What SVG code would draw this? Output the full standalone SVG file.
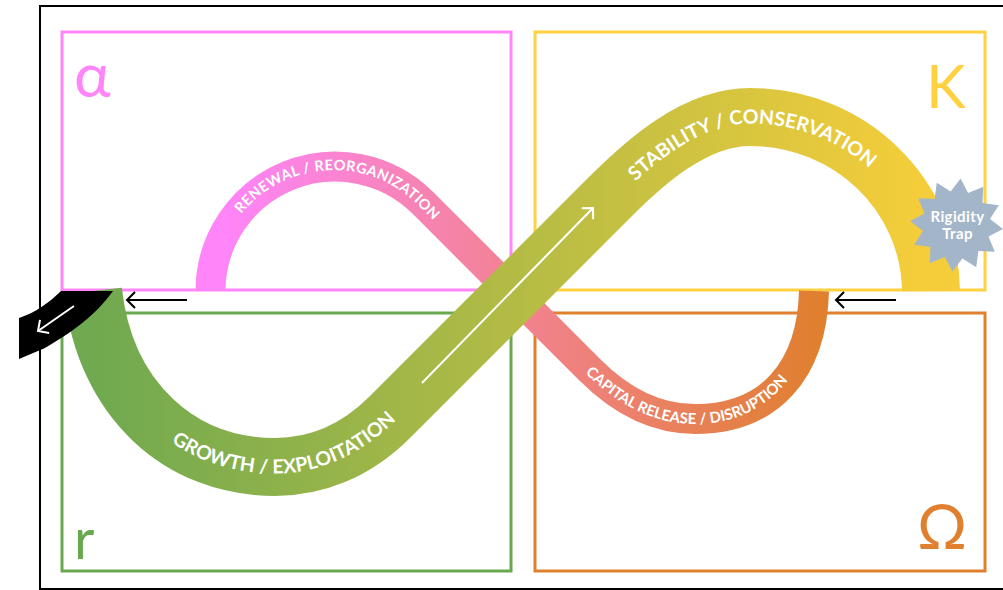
<svg xmlns="http://www.w3.org/2000/svg" width="1003" height="590" viewBox="0 0 1003 590">
<style>
.box{fill:none;stroke-width:3}
.bl{font-family:"Lato","Liberation Sans",sans-serif;font-weight:700;fill:#fff}
.g{font-family:"Lato","Liberation Sans",sans-serif;font-weight:400}
.ln{fill:none;stroke-width:2}
.band{fill:none}
</style>
<defs>
<linearGradient id="gp" gradientUnits="userSpaceOnUse" x1="225" y1="0" x2="820" y2="0"><stop offset="0" stop-color="#ff85f9"/><stop offset="0.5" stop-color="#f2828f"/><stop offset="1" stop-color="#e07f2e"/></linearGradient>
<linearGradient id="gg" gradientUnits="userSpaceOnUse" x1="90" y1="0" x2="920" y2="0"><stop offset="0" stop-color="#6fa950"/><stop offset="1" stop-color="#f5cd3a"/></linearGradient>
<marker id="ah" markerUnits="userSpaceOnUse" markerWidth="14" markerHeight="20" refX="11" refY="10" orient="auto"><path d="M3 2L11 10L3 18" fill="none" stroke="context-stroke" stroke-width="2"/></marker>
<path id="t1" d="M241 214A119.5 119.5 0 0 1 419.5 206.5L450 237"/>
<path id="t2" d="M585 373C617 404 653 424 695 424C768 424 815 368 819 291"/>
<path id="t3" d="M86 291C99 404 178 473.5 275 473.5C318 473.5 359 456 394.5 421.5L410 406"/>
<path id="t4" d="M614.6 201.6C650 166 698 123.5 750 123.5C847 123.5 925 198 925 291"/>
</defs>
<rect x="40" y="6" width="970" height="583" fill="#fff" stroke="#000" stroke-width="2"/>
<g id="quadrant-alpha"><rect class="box" x="62" y="32" width="449" height="258" stroke="#ff85f9"/><text class="g" font-size="62" x="74" y="97" fill="#ff85f9">α</text></g>
<g id="quadrant-k"><rect class="box" x="535" y="32" width="450" height="258" stroke="#ffd03f"/><text class="g" font-size="60" x="926" y="108" fill="#ffd03f">K</text></g>
<g id="quadrant-r"><rect class="box" x="62" y="313" width="449" height="258" stroke="#6aa84f"/><text class="g" font-size="56" x="74" y="559" fill="#6aa84f">r</text></g>
<g id="quadrant-omega"><rect class="box" x="535" y="313" width="450" height="258" stroke="#e0802f"/><text class="g" font-size="62" x="917" y="549" fill="#e0802f">Ω</text></g>
<g id="connectors">
<path id="band-pink" class="band" stroke="url(#gp)" stroke-width="30" d="M210.5 291A124.5 124.5 0 0 1 423 203L590 370C620 400 655 419 695 419C770 419 812 370 814 291"/>
<path id="band-green" class="band" stroke="url(#gg)" stroke-width="58" d="M93 291C105 400 180 467 275 467C315 467 355 452 390 417L610 197C645 162 695 117 750 117C850 117 930 195 931 291"/>
<path id="black-tip" fill="#000" d="M61 291L113 291C94 317 72 332 45 348L19 359L19 318C35 313 50 302 61 291Z"/>
<path class="ln" stroke="#fff" marker-end="url(#ah)" d="M74 306L38 331"/>
<path class="ln" stroke="#fff" marker-end="url(#ah)" d="M422 383L593 208"/>
<path class="ln" stroke="#000" marker-end="url(#ah)" d="M187 300L127 300"/>
<path class="ln" stroke="#000" marker-end="url(#ah)" d="M896 300L836 300"/>
<text class="bl" font-size="14.5" letter-spacing=".45"><textPath href="#t1">RENEWAL / REORGANIZATION</textPath></text>
<text class="bl" font-size="15"><textPath href="#t2">CAPITAL RELEASE / DISRUPTION</textPath></text>
<text class="bl" font-size="19.5"><textPath href="#t3" startOffset="179">GROWTH / EXPLOITATION</textPath></text>
<text class="bl" font-size="19.5"><textPath href="#t4" startOffset="29">STABILITY / CONSERVATION</textPath></text>
</g>
<g id="rigidity-trap">
<polygon fill="#a3b6c9" points="960.6,178.5 968.1,193 983.3,186.7 982.5,203.1 998.8,205.3 990,219.1 1003,229.1 988.5,236.6 994.8,251.8 978.4,251 976.2,267.3 962.4,258.5 952.4,271.5 944.9,257 929.7,263.3 930.5,246.9 914.2,244.8 923,230.9 910,220.9 924.5,213.4 918.2,198.2 934.6,199 936.8,182.7 950.6,191.5"/>
<text font-family="Lato,'Liberation Sans',sans-serif" font-size="15" font-weight="700" letter-spacing=".4" fill="#fff" text-anchor="middle"><tspan x="957.5" y="222">Rigidity</tspan><tspan x="957.5" y="239">Trap</tspan></text>
</g>
</svg>
